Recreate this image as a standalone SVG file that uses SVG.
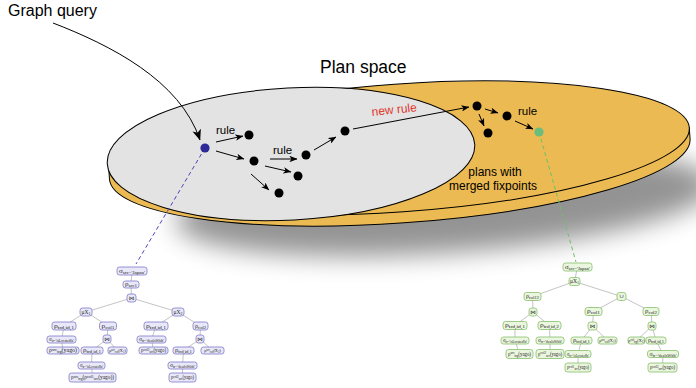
<svg xmlns="http://www.w3.org/2000/svg" width="696" height="388" viewBox="0 0 696 388">
<style>
.lbl{font-family:"Liberation Sans",Arial,sans-serif;fill:#000}
.dot{fill:#000}
.ar{stroke:#000;stroke-width:1;fill:none;marker-end:url(#ah)}
.lt rect{fill:#e8e8f8;stroke:#7d78c8;stroke-width:0.8}
.gt rect{fill:#ebf6df;stroke:#86bf6a;stroke-width:0.8}
.t{font-family:"Liberation Serif","DejaVu Serif","DejaVu Sans",serif;font-size:5.5px;fill:#222;text-anchor:middle}
.s{font-size:4px}
.t2{font-size:4.2px}
.t2 .s{font-size:3px}
.e line{stroke:#aaaaaa;stroke-width:0.7}
</style>
<defs>
<marker id="ah" viewBox="0 0 10 8" refX="9.5" refY="4" markerWidth="8" markerHeight="6.4" markerUnits="userSpaceOnUse" orient="auto"><path d="M0,0 L10,4 L0,8 L2.5,4 Z" fill="#000"/></marker>
<marker id="ahb" viewBox="0 0 10 8" refX="9.5" refY="4" markerWidth="11" markerHeight="9" markerUnits="userSpaceOnUse" orient="auto"><path d="M0,0 L10,4 L0,8 L2.5,4 Z" fill="#000"/></marker>
<filter id="blur" x="-30%" y="-80%" width="160%" height="260%"><feGaussianBlur stdDeviation="13"/></filter>
</defs>
<rect width="696" height="388" fill="#fff"/>
<g id="shadow"><ellipse cx="445" cy="203" rx="270" ry="50" fill="#000" opacity="0.42" transform="rotate(-4 445 203)" filter="url(#blur)"/></g>
<g id="plan-space-disk">
<g transform="rotate(-4 399 148)">
<path d="M108,148 L108,159 A291,64 0 0 0 690,159 L690,148 Z" fill="#ebba52" stroke="#000" stroke-width="1"/>
<ellipse cx="399" cy="148" rx="291" ry="64" fill="#ebba52" stroke="#000" stroke-width="1"/>
</g>
<ellipse cx="291" cy="154" rx="184" ry="66" fill="#e3e3e3" stroke="#000" stroke-width="1" transform="rotate(-3 291 154)"/>
</g>
<text class="lbl" x="8" y="16" font-size="16">Graph query</text>
<text class="lbl" x="320" y="73" font-size="17.5">Plan space</text>
<g id="connectors">
<path d="M53,23 C110,45 180,80 200,140" class="ar" style="marker-end:url(#ahb)"/>
<line x1="216" y1="142" x2="243" y2="136" class="ar"/>
<line x1="216" y1="151" x2="244" y2="159" class="ar"/>
<line x1="270" y1="159" x2="297" y2="159" class="ar"/>
<line x1="265" y1="166" x2="291" y2="172" class="ar"/>
<line x1="251" y1="174" x2="269" y2="190" class="ar"/>
<line x1="314" y1="150" x2="336" y2="137" class="ar"/>
<line x1="353" y1="129" x2="469" y2="107" class="ar"/>
<line x1="485" y1="109" x2="498" y2="113" class="ar"/>
<line x1="479" y1="114" x2="484" y2="126" class="ar"/>
<line x1="515" y1="121" x2="533" y2="129" class="ar"/>
<line x1="205" y1="148" x2="136" y2="264" stroke="#4a44b8" stroke-width="1" stroke-dasharray="4,3"/>
<line x1="539" y1="132" x2="576" y2="262" stroke="#6cc06c" stroke-width="1" stroke-dasharray="4,3"/>
</g>
<g id="labels">
<text class="lbl" x="216" y="133.5" font-size="11.5">rule</text>
<text class="lbl" x="273" y="153.5" font-size="11.5">rule</text>
<text class="lbl" x="518" y="115" font-size="11.5">rule</text>
<text class="lbl" x="372" y="116" font-size="12" style="fill:#e0382e" transform="rotate(-6 372 116)">new rule</text>
<text class="lbl" x="495" y="176" font-size="12" text-anchor="middle">plans with</text>
<text class="lbl" x="493" y="190" font-size="12" text-anchor="middle">merged fixpoints</text>
</g>
<g id="dots">
<circle cx="205" cy="148" r="4.6" fill="#2e2a98"/>
<circle class="dot" cx="249" cy="135" r="4.5"/>
<circle class="dot" cx="254" cy="161" r="4.5"/>
<circle class="dot" cx="306" cy="155" r="4.5"/>
<circle class="dot" cx="298" cy="176" r="4.5"/>
<circle class="dot" cx="279" cy="193" r="4.5"/>
<circle class="dot" cx="345" cy="131" r="4.5"/>
<circle class="dot" cx="477" cy="106" r="4.5"/>
<circle class="dot" cx="507" cy="116" r="4.5"/>
<circle class="dot" cx="488" cy="133" r="4.5"/>
<circle cx="539" cy="132" r="4.6" fill="#6bbd7c"/>
</g>
<g id="left-tree-edges" class="e">
<line x1="132" y1="271" x2="131" y2="284.5"/><line x1="131" y1="284.5" x2="131.5" y2="298"/>
<line x1="131.5" y1="298" x2="86" y2="312"/><line x1="131.5" y1="298" x2="178" y2="312"/>
<line x1="86" y1="312" x2="64" y2="326"/><line x1="86" y1="312" x2="108" y2="326"/>
<line x1="178" y1="312" x2="156" y2="326"/><line x1="178" y1="312" x2="200.5" y2="326"/>
<line x1="64" y1="326" x2="61.5" y2="339.5"/><line x1="61.5" y1="339.5" x2="63" y2="350.5"/>
<line x1="108" y1="326" x2="107" y2="339"/><line x1="107" y1="339" x2="92" y2="350.5"/><line x1="107" y1="339" x2="117.5" y2="350.5"/>
<line x1="92" y1="350.5" x2="91.5" y2="365.5"/><line x1="91.5" y1="365.5" x2="92.5" y2="377.5"/>
<line x1="156" y1="326" x2="151.5" y2="339.5"/><line x1="151.5" y1="339.5" x2="153.5" y2="350.5"/>
<line x1="200.5" y1="326" x2="200" y2="339"/><line x1="200" y1="339" x2="183.5" y2="350.5"/><line x1="200" y1="339" x2="212.5" y2="350.5"/>
<line x1="183.5" y1="350.5" x2="182.5" y2="365.5"/><line x1="182.5" y1="365.5" x2="182.5" y2="377.5"/>
</g>
<g id="left-tree" class="lt">
<g id="l1"><rect x="117" y="267" width="30" height="8" rx="2.5"/><text class="t" x="132" y="272.9" textLength="26" lengthAdjust="spacingAndGlyphs">σ<tspan class="s" dy="0.8">src='Japan'</tspan></text></g>
<g id="l2"><rect x="123" y="281" width="16" height="7" rx="2.5"/><text class="t" x="131" y="286.4" textLength="12" lengthAdjust="spacingAndGlyphs">ρ<tspan class="s" dy="0.8">src1</tspan></text></g>
<g id="l3"><rect x="127" y="294" width="9" height="8" rx="2.5"/><text class="t" x="131.5" y="299.9">⋈</text></g>
<g id="l4"><rect x="80" y="308" width="12" height="8" rx="2.5"/><text class="t" x="86" y="313.9">μX<tspan class="s" dy="0.8">1</tspan></text></g>
<g id="l5"><rect x="172" y="308" width="12" height="8" rx="2.5"/><text class="t" x="178" y="313.9">μX<tspan class="s" dy="0.8">2</tspan></text></g>
<g id="l6"><rect x="52" y="322" width="24" height="8" rx="2.5"/><text class="t" x="64" y="327.9" textLength="20" lengthAdjust="spacingAndGlyphs">ρ<tspan class="s" dy="0.8">trd,id,1</tspan></text></g>
<g id="l7"><rect x="99.5" y="322" width="17" height="8" rx="2.5"/><text class="t" x="108" y="327.9" textLength="13" lengthAdjust="spacingAndGlyphs">ρ<tspan class="s" dy="0.8">col1</tspan></text></g>
<g id="l8"><rect x="144" y="322" width="24" height="8" rx="2.5"/><text class="t" x="156" y="327.9" textLength="20" lengthAdjust="spacingAndGlyphs">ρ<tspan class="s" dy="0.8">trd,id,1</tspan></text></g>
<g id="l9"><rect x="193" y="322" width="15" height="8" rx="2.5"/><text class="t" x="200.5" y="327.9" textLength="11" lengthAdjust="spacingAndGlyphs">ρ<tspan class="s" dy="0.8">col2</tspan></text></g>
<g id="l10"><rect x="47" y="336" width="29" height="7" rx="2.5"/><text class="t" x="61.5" y="341.4" textLength="25" lengthAdjust="spacingAndGlyphs">σ<tspan class="s" dy="0.8">tr='isLocatedIn'</tspan></text></g>
<g id="l11"><rect x="103" y="335" width="8" height="8" rx="2.5"/><text class="t" x="107" y="340.9">⋈</text></g>
<g id="l12"><rect x="137" y="336" width="29" height="7" rx="2.5"/><text class="t" x="151.5" y="341.4" textLength="25" lengthAdjust="spacingAndGlyphs">σ<tspan class="s" dy="0.8">tr='dealsWith'</tspan></text></g>
<g id="l13"><rect x="196" y="335" width="8" height="8" rx="2.5"/><text class="t" x="200" y="340.9">⋈</text></g>
<g id="l14"><rect x="47" y="347" width="32" height="7" rx="2.5"/><text class="t" x="63" y="352.4" textLength="28" lengthAdjust="spacingAndGlyphs">ρ<tspan class="s" dy="-1.5">src</tspan><tspan class="s" dy="2.5">trg</tspan><tspan dy="-1">(yago)</tspan></text></g>
<g id="l15"><rect x="81" y="347" width="22" height="7" rx="2.5"/><text class="t" x="92" y="352.4" textLength="18" lengthAdjust="spacingAndGlyphs">ρ<tspan class="s" dy="0.8">trd,id,1</tspan></text></g>
<g id="l16"><rect x="108" y="347" width="19" height="7" rx="2.5"/><text class="t t2" x="117.5" y="352">ρ<tspan class="s" dy="-1.2">src</tspan><tspan class="s" dy="2.2">col</tspan><tspan dy="-1">(X</tspan><tspan class="s" dy="0.7">1</tspan><tspan dy="-0.7">)</tspan></text></g>
<g id="l17"><rect x="139" y="347" width="29" height="7" rx="2.5"/><text class="t" x="153.5" y="352.4" textLength="25" lengthAdjust="spacingAndGlyphs">ρ<tspan class="s" dy="-1.5">col2</tspan><tspan class="s" dy="2.5">src</tspan><tspan dy="-1">(yago)</tspan></text></g>
<g id="l18"><rect x="173" y="347" width="21" height="7" rx="2.5"/><text class="t" x="183.5" y="352.4" textLength="17" lengthAdjust="spacingAndGlyphs">ρ<tspan class="s" dy="0.8">trd,id,1</tspan></text></g>
<g id="l19"><rect x="201" y="347" width="23" height="7" rx="2.5"/><text class="t t2" x="212.5" y="352">ρ<tspan class="s" dy="-1.2">src</tspan><tspan class="s" dy="2.2">col</tspan><tspan dy="-1">(X</tspan><tspan class="s" dy="0.7">2</tspan><tspan dy="-0.7">)</tspan></text></g>
<g id="l20"><rect x="78" y="362" width="27" height="7" rx="2.5"/><text class="t" x="91.5" y="367.4" textLength="23" lengthAdjust="spacingAndGlyphs">σ<tspan class="s" dy="0.8">tr='isLocatedIn'</tspan></text></g>
<g id="l21"><rect x="168" y="362" width="29" height="7" rx="2.5"/><text class="t" x="182.5" y="367.4" textLength="25" lengthAdjust="spacingAndGlyphs">σ<tspan class="s" dy="0.8">tr='dealsWith'</tspan></text></g>
<g id="l22"><rect x="69" y="373" width="47" height="9" rx="2.5"/><text class="t" x="92.5" y="379.4" textLength="43" lengthAdjust="spacingAndGlyphs">ρ<tspan class="s" dy="-1.5">src</tspan><tspan class="s" dy="2.5">trg</tspan><tspan dy="-1">(ρ</tspan><tspan class="s" dy="-1.5">col1</tspan><tspan class="s" dy="2.5">src</tspan><tspan dy="-1">(yago))</tspan></text></g>
<g id="l23"><rect x="169" y="373" width="27" height="9" rx="2.5"/><text class="t" x="182.5" y="379.4" textLength="23" lengthAdjust="spacingAndGlyphs">ρ<tspan class="s" dy="-1.5">col2</tspan><tspan class="s" dy="2.5">src</tspan><tspan dy="-1">(yago)</tspan></text></g>
</g>
<g id="right-tree-edges" class="e">
<line x1="577.5" y1="267" x2="574.5" y2="281.5"/>
<line x1="574.5" y1="281.5" x2="532.5" y2="296.5"/><line x1="574.5" y1="281.5" x2="621.5" y2="296.5"/>
<line x1="532.5" y1="296.5" x2="533" y2="312"/>
<line x1="533" y1="312" x2="515" y2="325.5"/><line x1="533" y1="312" x2="549.5" y2="325.5"/>
<line x1="515" y1="325.5" x2="515" y2="340.5"/><line x1="515" y1="340.5" x2="519.5" y2="354"/>
<line x1="549.5" y1="325.5" x2="550" y2="340.5"/><line x1="550" y1="340.5" x2="550" y2="354"/>
<line x1="621.5" y1="296.5" x2="593.5" y2="311.5"/><line x1="621.5" y1="296.5" x2="651" y2="311.5"/>
<line x1="593.5" y1="311.5" x2="592.5" y2="326"/>
<line x1="592.5" y1="326" x2="581.5" y2="340.5"/><line x1="592.5" y1="326" x2="607.5" y2="340.5"/>
<line x1="581.5" y1="340.5" x2="578" y2="354"/><line x1="578" y1="354" x2="578" y2="367.5"/>
<line x1="651" y1="311.5" x2="652" y2="326"/>
<line x1="652" y1="326" x2="636.5" y2="340.5"/><line x1="652" y1="326" x2="656" y2="340.5"/>
<line x1="656" y1="340.5" x2="663" y2="354"/><line x1="663" y1="354" x2="662.5" y2="367.5"/>
</g>
<g id="right-tree" class="gt">
<g id="r1"><rect x="563" y="263" width="29" height="8" rx="2.5"/><text class="t" x="577.5" y="268.9" textLength="25" lengthAdjust="spacingAndGlyphs">σ<tspan class="s" dy="0.8">src='Japan'</tspan></text></g>
<g id="r2"><rect x="569" y="277.5" width="11" height="8" rx="2.5"/><text class="t" x="574.5" y="283.4">μX<tspan class="s" dy="0.8">1</tspan></text></g>
<g id="r3"><rect x="524" y="292.5" width="17" height="8" rx="2.5"/><text class="t" x="532.5" y="298.4" textLength="13" lengthAdjust="spacingAndGlyphs">ρ<tspan class="s" dy="0.8">col12</tspan></text></g>
<g id="r4"><rect x="617" y="292.5" width="9" height="8" rx="2.5"/><text class="t" x="621.5" y="298.4">∪</text></g>
<g id="r5"><rect x="529" y="308" width="8" height="8" rx="2.5"/><text class="t" x="533" y="313.9">⋈</text></g>
<g id="r6"><rect x="585" y="307.5" width="17" height="8" rx="2.5"/><text class="t" x="593.5" y="313.4" textLength="13" lengthAdjust="spacingAndGlyphs">ρ<tspan class="s" dy="0.8">col1</tspan></text></g>
<g id="r7"><rect x="643" y="307.5" width="16" height="8" rx="2.5"/><text class="t" x="651" y="313.4" textLength="12" lengthAdjust="spacingAndGlyphs">ρ<tspan class="s" dy="0.8">col2</tspan></text></g>
<g id="r8"><rect x="503" y="321.5" width="24" height="8" rx="2.5"/><text class="t" x="515" y="327.4" textLength="20" lengthAdjust="spacingAndGlyphs">ρ<tspan class="s" dy="0.8">trd,id,1</tspan></text></g>
<g id="r9"><rect x="538" y="321.5" width="23" height="8" rx="2.5"/><text class="t" x="549.5" y="327.4" textLength="19" lengthAdjust="spacingAndGlyphs">ρ<tspan class="s" dy="0.8">trd,id,2</tspan></text></g>
<g id="r10"><rect x="588" y="322" width="9" height="8" rx="2.5"/><text class="t" x="592.5" y="327.9">⋈</text></g>
<g id="r11"><rect x="648" y="322" width="8" height="8" rx="2.5"/><text class="t" x="652" y="327.9">⋈</text></g>
<g id="r12"><rect x="501" y="337" width="28" height="7" rx="2.5"/><text class="t" x="515" y="342.4" textLength="24" lengthAdjust="spacingAndGlyphs">σ<tspan class="s" dy="0.8">tr='isLocatedIn'</tspan></text></g>
<g id="r13"><rect x="536" y="337" width="28" height="7" rx="2.5"/><text class="t" x="550" y="342.4" textLength="24" lengthAdjust="spacingAndGlyphs">σ<tspan class="s" dy="0.8">tr='dealsWith'</tspan></text></g>
<g id="r14"><rect x="571" y="337" width="21" height="7" rx="2.5"/><text class="t" x="581.5" y="342.4" textLength="17" lengthAdjust="spacingAndGlyphs">ρ<tspan class="s" dy="0.8">trd,id,1</tspan></text></g>
<g id="r15"><rect x="598" y="337" width="19" height="7" rx="2.5"/><text class="t t2" x="607.5" y="342">ρ<tspan class="s" dy="-1.2">src</tspan><tspan class="s" dy="2.2">col</tspan><tspan dy="-1">(X</tspan><tspan class="s" dy="0.7">1</tspan><tspan dy="-0.7">)</tspan></text></g>
<g id="r16"><rect x="628" y="337" width="17" height="7" rx="2.5"/><text class="t t2" x="636.5" y="342">ρ<tspan class="s" dy="-1.2">col</tspan><tspan class="s" dy="2.2">trg</tspan><tspan dy="-1">(X</tspan><tspan class="s" dy="0.7">1</tspan><tspan dy="-0.7">)</tspan></text></g>
<g id="r17"><rect x="646" y="337" width="20" height="7" rx="2.5"/><text class="t" x="656" y="342.4" textLength="16" lengthAdjust="spacingAndGlyphs">ρ<tspan class="s" dy="0.8">trd,id,1</tspan></text></g>
<g id="r18"><rect x="506" y="349.5" width="27" height="9" rx="2.5"/><text class="t" x="519.5" y="355.9" textLength="23" lengthAdjust="spacingAndGlyphs">ρ<tspan class="s" dy="-1.5">src</tspan><tspan class="s" dy="2.5">trg</tspan><tspan dy="-1">(yago)</tspan></text></g>
<g id="r19"><rect x="536" y="349.5" width="28" height="9" rx="2.5"/><text class="t" x="550" y="355.9" textLength="24" lengthAdjust="spacingAndGlyphs">ρ<tspan class="s" dy="-1.5">col2</tspan><tspan class="s" dy="2.5">src</tspan><tspan dy="-1">(yago)</tspan></text></g>
<g id="r20"><rect x="565" y="350.5" width="26" height="7" rx="2.5"/><text class="t" x="578" y="355.9" textLength="22" lengthAdjust="spacingAndGlyphs">σ<tspan class="s" dy="0.8">tr='isLocatedIn'</tspan></text></g>
<g id="r21"><rect x="647.5" y="350.5" width="31" height="7" rx="2.5"/><text class="t" x="663" y="355.9" textLength="27" lengthAdjust="spacingAndGlyphs">σ<tspan class="s" dy="0.8">tr='dealsWith'</tspan></text></g>
<g id="r22"><rect x="565" y="363" width="26" height="9" rx="2.5"/><text class="t" x="578" y="369.4" textLength="22" lengthAdjust="spacingAndGlyphs">ρ<tspan class="s" dy="-1.5">col1</tspan><tspan class="s" dy="2.5">src</tspan><tspan dy="-1">(yago)</tspan></text></g>
<g id="r23"><rect x="648" y="363" width="29" height="9" rx="2.5"/><text class="t" x="662.5" y="369.4" textLength="25" lengthAdjust="spacingAndGlyphs">ρ<tspan class="s" dy="-1.5">col2</tspan><tspan class="s" dy="2.5">src</tspan><tspan dy="-1">(yago)</tspan></text></g>
</g>
</svg>
